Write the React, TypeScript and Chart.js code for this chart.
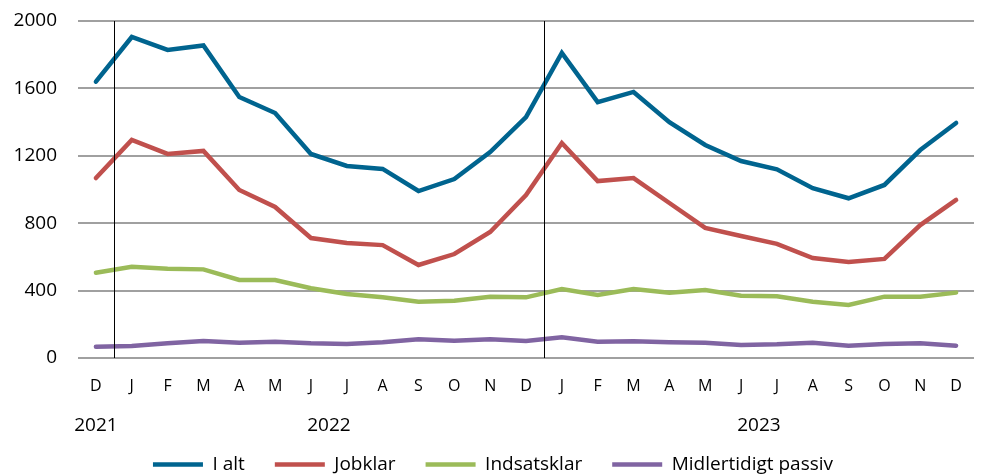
import React, { useEffect, useRef } from "react";
import { Chart, registerables } from "chart.js";

Chart.register(...registerables);

const months = ["D", "J", "F", "M", "A", "M", "J", "J", "A", "S", "O", "N", "D", "J", "F", "M", "A", "M", "J", "J", "A", "S", "O", "N", "D"];
const iAlt = [1640, 1905, 1828, 1855, 1549, 1454, 1211, 1140, 1122, 991, 1062, 1222, 1430, 1810, 1519, 1579, 1400, 1264, 1169, 1120, 1008, 948, 1027, 1234, 1395];
const jobklar = [1068, 1294, 1211, 1229, 997, 896, 712, 682, 670, 552, 617, 748, 967, 1276, 1050, 1068, 920, 772, 724, 677, 593, 570, 588, 789, 938];
const indsatsklar = [506, 542, 530, 526, 463, 463, 414, 380, 360, 334, 340, 364, 360, 409, 374, 409, 388, 404, 370, 366, 334, 315, 364, 364, 388];
const passiv = [67, 71, 87, 101, 91, 97, 87, 83, 93, 111, 103, 111, 101, 123, 97, 99, 93, 91, 77, 81, 91, 73, 83, 87, 73];

const yearLabels = ["2021", "2022", "2023"];
const yearFirstIdx = [0, 1, 13];
const yearLastIdx = [0, 12, 24];
const separatorsAfterIdx = [0, 12];

const FONT = "'Open Sans', 'Liberation Sans', sans-serif";

const yearPlugin = {
  id: "yearPlugin",
  beforeLayout(chart: any) {
    const lg = chart.legend;
    if (lg && !lg._patchedFit) {
      const orig = lg.fit.bind(lg);
      lg.fit = () => {
        orig();
        lg.height = 50;
      };
      lg._patchedFit = true;
    }
  },
  afterDraw(chart: any) {
    const ctx = chart.ctx;
    const xs = chart.scales.x;
    const { top, bottom } = chart.chartArea;
    ctx.save();
    ctx.strokeStyle = "#000";
    ctx.lineWidth = 1;
    separatorsAfterIdx.forEach((i) => {
      const px = Math.round((xs.getPixelForValue(i) + xs.getPixelForValue(i + 1)) / 2) + 0.5;
      ctx.beginPath();
      ctx.moveTo(px, top);
      ctx.lineTo(px, bottom);
      ctx.stroke();
    });
    ctx.fillStyle = "#000";
    ctx.font = `19px ${FONT}`;
    ctx.textAlign = "center";
    ctx.textBaseline = "middle";
    yearLabels.forEach((label, k) => {
      const cx = (xs.getPixelForValue(yearFirstIdx[k]) + xs.getPixelForValue(yearLastIdx[k])) / 2;
      ctx.fillText(label, cx, bottom + 68);
    });
    ctx.restore();
  },
};

export default function App() {
  const ref = useRef<HTMLCanvasElement | null>(null);
  useEffect(() => {
    if (!ref.current) return;
    const mk = (label: string, data: number[], color: string) => ({
      label,
      data,
      borderColor: color,
      backgroundColor: color,
      borderWidth: 4.5,
      pointRadius: 0,
      borderCapStyle: "round" as const,
      tension: 0,
    });
    const chart = new Chart(ref.current, {
      type: "line",
      data: {
        labels: months,
        datasets: [
          mk("I alt", iAlt, "#00648F"),
          mk("Jobklar", jobklar, "#C0504D"),
          mk("Indsatsklar", indsatsklar, "#9BBB59"),
          mk("Midlertidigt passiv", passiv, "#8064A2"),
        ],
      },
      options: {
        animation: false,
        responsive: true,
        maintainAspectRatio: false,
        layout: { padding: { top: 21, left: 10, right: 5, bottom: 0 } },
        plugins: {
          tooltip: { enabled: false },
          legend: {
            position: "bottom",
            labels: {
              usePointStyle: true,
              pointStyle: "line",
              pointStyleWidth: 50,
              padding: 30,
              color: "#000",
              font: { family: FONT, size: 19 },
            },
          },
        },
        scales: {
          x: {
            offset: true,
            grid: { display: false, drawTicks: false },
            border: { display: false },
            ticks: {
              color: "#000",
              font: { family: FONT, size: 16 },
              padding: 19,
              maxRotation: 0,
              autoSkip: false,
            },
            afterFit(scale: any) {
              scale.height = 67;
            },
          },
          y: {
            min: 0,
            max: 2000,
            grid: { color: "#A0A0A0", lineWidth: 2, drawTicks: false },
            border: { display: false },
            ticks: {
              stepSize: 400,
              color: "#000",
              font: { family: FONT, size: 19 },
              padding: 21,
              callback: (v: any) => String(v),
            },
            afterFit(scale: any) {
              scale.width = 68;
              scale.paddingTop = 0;
              scale.paddingBottom = 0;
            },
          },
        },
      },
      plugins: [yearPlugin],
    });
    return () => chart.destroy();
  }, []);
  return (
    <div style={{ position: "absolute", left: 0, top: 0, width: 981, height: 475 }}>
      <canvas ref={ref} />
    </div>
  );
}
